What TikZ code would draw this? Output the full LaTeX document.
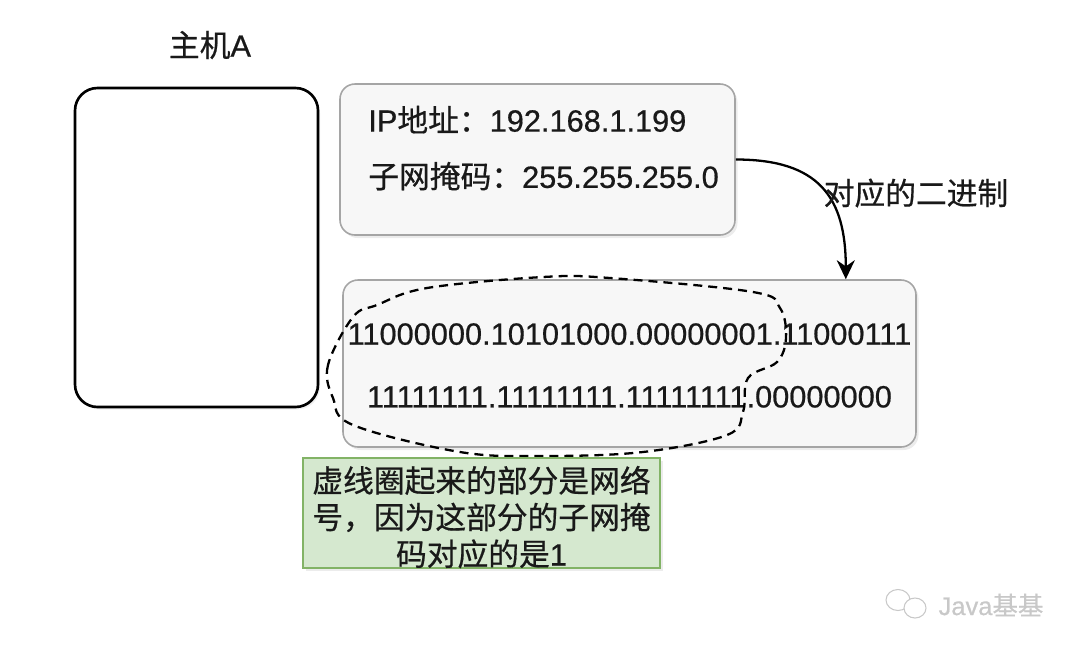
\documentclass[tikz,border=0pt]{standalone}
\usepackage{fontspec}
\setmainfont[FakeBold=0.6]{Liberation Sans}
\newfontfamily\cjk[FakeBold=0.6]{Noto Sans CJK SC}
\usepackage{tikz}
\usetikzlibrary{arrows.meta,shadows}
\definecolor{panelcolor}{RGB}{165, 165, 165}
\definecolor{panelfill}{RGB}{247, 247, 247}
\definecolor{notecolor}{RGB}{130, 179, 102}
\definecolor{notefill}{RGB}{213, 232, 207}
\definecolor{markcolor}{RGB}{200, 200, 200}
\definecolor{inkcolor}{RGB}{25, 25, 25}

\begin{document}
\begin{tikzpicture}[
        every node/.style={text=inkcolor},
        panel/.style={draw=panelcolor, fill=panelfill, line width=0.9pt, rounded corners=0.3cm,
            drop shadow={shadow xshift=0.05cm, shadow yshift=-0.06cm, opacity=0.15}},
        hostframe/.style={draw=black, fill=white, line width=1.5pt, rounded corners=0.45cm,
            drop shadow={shadow xshift=0.04cm, shadow yshift=-0.05cm, opacity=0.12}},
        notebox/.style={draw=notecolor, fill=notefill, line width=0.9pt,
            drop shadow={shadow xshift=0.05cm, shadow yshift=-0.06cm, opacity=0.15}},
        netloop/.style={draw=black, line width=1.3pt, dash pattern=on 0.18cm off 0.12cm},
        convarrow/.style={-{Stealth[length=0.38cm, width=0.36cm]}, line width=1.3pt, black}
    ]
        \useasboundingbox (0,0) rectangle (21.6,-13.04);

        % Host A Box
        \node[font=\fontsize{17.5pt}{20pt}\selectfont] (hostlabel) at (4.2,-0.9) {{\cjk 主机}A};
        \node[hostframe, minimum width=4.86cm, minimum height=6.38cm] (hostbox) at (3.93,-4.95) {};

        % IP Box
        \node[panel, minimum width=7.9cm, minimum height=3.02cm] (ipbox) at (10.75,-3.19) {};
        \node[anchor=west, inner sep=0pt, font=\fontsize{17.5pt}{32pt}\selectfont] (iptext) at (7.36,-2.97) {
            \begin{tabular}{@{}l@{}}
                IP{\cjk 地址：}192.168.1.199 \\
                {\cjk 子网掩码：}255.255.255.0
            \end{tabular}
        };

        % Binary Box
        \node[panel, inner sep=0pt, minimum width=11.46cm, minimum height=3.34cm,
            font=\fontsize{17.5pt}{35.7pt}\selectfont] (binbox) at (12.59,-7.27) {
            \begin{tabular}{@{}c@{}}
                11000000.10101000.00000001.11000111 \\
                11111111.11111111.11111111.00000000
            \end{tabular}
        };

        % Network part
        \draw[netloop] plot[smooth cycle, tension=0.6] coordinates {
            (7.06,-6.34) (6.56,-7.30) (6.66,-7.96) (7.06,-8.50) (9.20,-9.04)
            (10.86,-9.12) (12.86,-9.04) (14.54,-8.70) (14.86,-8.24) (14.96,-7.56)
            (15.54,-7.24) (15.72,-6.76) (15.60,-6.16) (15.06,-5.84) (12.20,-5.56)
            (10.86,-5.54) (8.54,-5.76) (7.54,-6.10)};

        % Note
        \node[notebox, minimum width=7.14cm, minimum height=2.2cm] (note) at (9.63,-10.26) {};
        \node[inner sep=0pt, font=\fontsize{17.5pt}{20.2pt}\selectfont\cjk] (notetext) at (9.63,-10.42) {
            \begin{tabular}{@{}c@{}}
                虚线圈起来的部分是网络 \\
                号，因为这部分的子网掩 \\
                码对应的是{\rmfamily 1}
            \end{tabular}
        };

        % Connection
        \draw[convarrow] (ipbox.east) to[out=0, in=90, looseness=1.3] ([xshift=-1.42cm]binbox.north east);
        \node[font=\fontsize{17.5pt}{20pt}\selectfont\cjk] (convlabel) at (18.32,-3.86) {对应的二进制};

        % Watermark
        \draw[markcolor, line width=0.6pt] (17.96,-12.0) ellipse (0.24cm and 0.21cm);
        \draw[markcolor, line width=0.6pt, fill=white] (18.3,-12.16) ellipse (0.22cm and 0.2cm);
        \node[text=markcolor, font=\fontsize{14.5pt}{17pt}\selectfont] (mark) at (19.82,-12.1) {Java{\cjk 基基}};
    \end{tikzpicture}
\end{document}
